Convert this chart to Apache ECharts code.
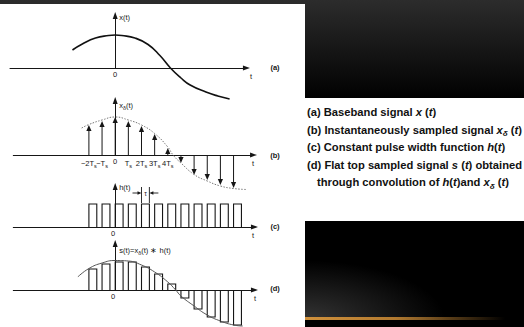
<!DOCTYPE html>
<html><head><meta charset="utf-8">
<script src="https://cdn.jsdelivr.net/npm/echarts@6/dist/echarts.min.js"></script>
<style>
html,body{margin:0;padding:0;background:#000;overflow:hidden}
#wrap{position:relative;width:524px;height:327px;overflow:hidden;background:#000}
.bg{position:absolute}
#chart{position:absolute;left:0;top:0;width:524px;height:327px}
</style></head><body>
<div id="wrap">
<div class="bg" style="left:0;top:0;width:524px;height:100px;background:linear-gradient(#2c2c2c,#000)"></div>
<div class="bg" style="left:0;top:4px;width:305px;height:323px;background:#fff"></div>
<div class="bg" style="left:305px;top:98px;width:219px;height:123px;background:#fff"></div>
<div class="bg" style="left:305px;top:235px;width:200px;height:85px;background:radial-gradient(ellipse 100% 100% at 0% 100%, rgba(95,95,95,0.55), rgba(0,0,0,0) 70%)"></div>
<div class="bg" style="left:305px;top:317px;width:200px;height:3px;background:linear-gradient(to right,#d0913c,#b27a30 45%,rgba(120,80,30,0))"></div>
<div id="chart"></div>
</div>
<script>
// ---- data (times in units of Ts, values in panel pixels above the axis) ----
const sampleTimes      = [-2, -1, 0, 1, 2, 3, 4, 5, 6, 7, 8, 9];
const sampledValuesB   = [30, 34, 38, 34, 29, 21, 7, -8, -20, -25, -30, -33];
const pulseHeightsC    = [23, 23, 23, 23, 23, 23, 23, 23, 23, 23, 23, 23];
const flatTopValuesD   = [21, 26, 28, 28, 23, 16, 6, -8, -19, -27, -32, -35];
const pulseWidth       = 0.6;            // tau, in Ts
const tauMarker        = [2, 34];        // start time, level
const curveTimesA  = [-3.25, -2.5, -1.5, -0.5, 0, 0.5, 1.5, 2.5, 3.4, 4.2, 5.0, 5.7, 6.9, 7.8, 8.7];
const curveValuesA = [18, 24, 30, 32.5, 33, 32.5, 30, 23.5, 12.5, 0, -10, -17, -24, -28, -31];
const curveTimesB  = [-2.55, -2, -1, 0, 1, 2, 3, 4, 4.4, 5, 6, 7, 8, 9, 10];
const curveValuesB = [27, 30.5, 35, 38, 35, 30, 21.5, 8, 0, -8, -19.5, -26, -31, -33.5, -34.5];
const curveTimesD  = [-2.85, -2, -1, 0, 1, 2, 3, 4, 4.6, 5, 6, 7, 8, 9, 9.7];
const curveValuesD = [13, 21.5, 27, 29.5, 29, 25, 18, 8, 0, -6, -16, -25, -31, -35, -36];
const tickValuesB  = [-2, -1, 0, 1, 2, 3, 4];
const tickBaseB    = ['−2T', '−T', '0', 'T', '2T', '3T', '4T'];
const tickSubB     = ['s', 's', '', 's', 's', 's', 's'];
const yNames       = ['x(t)', 'x{sub|δ}(t)', 'h(t)', 's(t)=x{sub|δ}(t) ∗ h(t)'];
const panelTags    = ['(a)', '(b)', '(c)', '(d)'];
const captionLines = [
  '(a) Baseband signal {i|x} ({i|t})',
  '(b) Instantaneously sampled signal {i|x}{sub|δ} ({i|t})',
  '(c) Constant pulse width function {i|h}({i|t})',
  '(d) Flat top sampled signal {i|s} ({i|t}) obtained',
  'through convolution of {i|h}({i|t})and {i|x}{sub|δ} ({i|t})'
];

// ---- layout ----
const kx = 13.15, zeroX = 115.2;
const FONT = 'Liberation Sans, Arial, sans-serif';
const INK = '#161616';
const panels = [
  {axisY: 68,  top: 15.5,  min: -8,    max: 9.98,  tGap: 4.6,  yGap: -1.5, zeroPad: 0, tagY: 67},
  {axisY: 155, top: 100.5, min: -7.75, max: 10.52, tGap: -0.5, yGap: -4.5, zeroPad: 0, tagY: 155},
  {axisY: 227, top: 186.5, min: -7.75, max: 10.59, tGap: -1.5, yGap: -0.5, zeroPad: 4, tagY: 226},
  {axisY: 290, top: 243.5, min: -7.75, max: 10.59, tGap: 0.5,  yGap: -6.5, zeroPad: 4, tagY: 288}
];

const zip = (a, b) => a.map((v, i) => [v, b[i]]);

const grids = [], xAxes = [], yAxes = [];
panels.forEach((p, i) => {
  grids.push({left: zeroX + p.min * kx, width: (p.max - p.min) * kx, top: p.top, height: p.axisY - p.top, containLabel: false});
  xAxes.push({
    gridIndex: i, type: 'value', min: p.min, max: p.max, interval: 0.25,
    axisLine: {onZero: true, symbol: ['none', 'triangle'], symbolSize: [5, 7], lineStyle: {color: INK, width: 1}},
    axisTick: {show: false}, splitLine: {show: false},
    axisLabel: {
      show: true, fontSize: 7.5, fontFamily: FONT, color: INK, margin: 2.5,
      padding: [0, p.zeroPad, 0, 0],
      rich: {s: {fontSize: 5.5, fontFamily: FONT, color: INK, verticalAlign: 'bottom', lineHeight: 11}},
      formatter: function (v) {
        if (i === 1) {
          const k = tickValuesB.indexOf(Math.round(v * 100) / 100);
          if (k < 0) return '';
          return tickSubB[k] ? tickBaseB[k] + '{s|' + tickSubB[k] + '}' : tickBaseB[k];
        }
        return Math.abs(v) < 1e-9 ? '0' : '';
      }
    },
    name: 't', nameLocation: 'end', nameGap: p.tGap,
    nameTextStyle: {fontSize: 7.5, fontFamily: FONT, color: INK, align: 'center', verticalAlign: 'top', lineHeight: 7, padding: [5, 0, 0, 0]}
  });
  yAxes.push({
    gridIndex: i, type: 'value', min: 0, max: p.axisY - p.top,
    axisLine: {onZero: true, symbol: ['none', 'triangle'], symbolSize: [5, 7], lineStyle: {color: INK, width: 1}},
    axisTick: {show: false}, splitLine: {show: false}, axisLabel: {show: false},
    name: yNames[i], nameLocation: 'end', nameGap: p.yGap,
    nameTextStyle: {fontSize: 7.5, fontFamily: FONT, color: INK, align: 'left', verticalAlign: 'middle', padding: [0, 0, 0, 4],
      rich: {sub: {fontSize: 5.5, fontFamily: FONT, color: INK, verticalAlign: 'bottom', lineHeight: 11}}}
  });
});

function stemRender(params, api) {
  const t = api.value(0), v = api.value(1);
  const p0 = api.coord([t, 0]), p1 = api.coord([t, v]);
  const dir = v >= 0 ? 1 : -1, hl = 6, hw = 2.6;
  const base = p1[1] + dir * hl;
  return {type: 'group', children: [
    {type: 'line', shape: {x1: p0[0], y1: p0[1], x2: p1[0], y2: base}, style: {stroke: INK, lineWidth: 1}},
    {type: 'polygon', shape: {points: [[p1[0], p1[1]], [p1[0] - hw, base], [p1[0] + hw, base]]}, style: {fill: INK}}
  ]};
}
function pulseRender(params, api) {
  const t = api.value(0), h = api.value(1);
  return {type: 'polyline', shape: {points: [api.coord([t, 0]), api.coord([t, h]), api.coord([t + pulseWidth, h]), api.coord([t + pulseWidth, 0])]},
    style: {stroke: INK, lineWidth: 1.1, fill: 'none'}};
}
function tauRender(params, api) {
  const t = api.value(0), L = api.value(1);
  const a = api.coord([t, L]), b = api.coord([t + pulseWidth, L]);
  const lo = api.coord([t, L - 10])[1], hi = api.coord([t, L + 6])[1];
  const y = a[1];
  return {type: 'group', children: [
    {type: 'line', shape: {x1: a[0], y1: lo, x2: a[0], y2: hi}, style: {stroke: INK, lineWidth: 0.9}},
    {type: 'line', shape: {x1: b[0], y1: lo, x2: b[0], y2: hi}, style: {stroke: INK, lineWidth: 0.9}},
    {type: 'line', shape: {x1: a[0] - 9, y1: y, x2: a[0] - 3, y2: y}, style: {stroke: INK, lineWidth: 0.9}},
    {type: 'polygon', shape: {points: [[a[0], y], [a[0] - 4, y - 1.8], [a[0] - 4, y + 1.8]]}, style: {fill: INK}},
    {type: 'line', shape: {x1: b[0] + 9, y1: y, x2: b[0] + 3, y2: y}, style: {stroke: INK, lineWidth: 0.9}},
    {type: 'polygon', shape: {points: [[b[0], y], [b[0] + 4, y - 1.8], [b[0] + 4, y + 1.8]]}, style: {fill: INK}},
    {type: 'text', x: (a[0] + b[0]) / 2, y: y + 0.5, style: {text: 'τ', fontSize: 6.5, fontFamily: FONT, fill: INK, align: 'center', verticalAlign: 'middle'}}
  ]};
}

const series = [
  {type: 'line', xAxisIndex: 0, yAxisIndex: 0, data: zip(curveTimesA, curveValuesA), smooth: 0.5, symbol: 'none', clip: false,
    lineStyle: {color: '#111', width: 1.6}},
  {type: 'line', xAxisIndex: 1, yAxisIndex: 1, data: zip(curveTimesB, curveValuesB), smooth: 0.5, symbol: 'none', clip: false,
    lineStyle: {color: '#777', width: 1, type: [1.5, 1.5]}},
  {type: 'custom', xAxisIndex: 1, yAxisIndex: 1, data: zip(sampleTimes, sampledValuesB), renderItem: stemRender, clip: false},
  {type: 'custom', xAxisIndex: 2, yAxisIndex: 2, data: zip(sampleTimes, pulseHeightsC), renderItem: pulseRender, clip: false},
  {type: 'custom', xAxisIndex: 2, yAxisIndex: 2, data: [tauMarker], renderItem: tauRender, clip: false},
  {type: 'line', xAxisIndex: 3, yAxisIndex: 3, data: zip(curveTimesD, curveValuesD), smooth: 0.5, symbol: 'none', clip: false,
    lineStyle: {color: '#555', width: 1}},
  {type: 'custom', xAxisIndex: 3, yAxisIndex: 3, data: zip(sampleTimes, flatTopValuesD), renderItem: pulseRender, clip: false}
];

const graphic = [];
panels.forEach((p, i) => {
  graphic.push({type: 'text', x: 275, y: p.tagY, style: {text: panelTags[i], fontSize: 7.5, fontWeight: 'bold', fontFamily: FONT, fill: INK, align: 'center', verticalAlign: 'middle'}});
});
const capY = [112, 129.5, 147, 164.5, 182];
const capRich = {
  i:   {fontSize: 11.2, fontWeight: 'bold', fontStyle: 'italic', fontFamily: FONT, fill: '#111', lineHeight: 13},
  sub: {fontSize: 8, fontWeight: 'bold', fontStyle: 'italic', fontFamily: FONT, fill: '#111', verticalAlign: 'bottom', lineHeight: 16}
};
captionLines.forEach((line, i) => {
  graphic.push({type: 'text', x: i === 4 ? 317 : 307, y: capY[i],
    style: {text: line, rich: capRich, fontSize: 11.2, fontWeight: 'bold', fontFamily: FONT, fill: '#111', lineHeight: 13, verticalAlign: 'middle', align: 'left'}});
});

const chart = echarts.init(document.getElementById('chart'), null, {renderer: 'svg', width: 524, height: 327});
chart.setOption({
  animation: false,
  backgroundColor: 'transparent',
  grid: grids, xAxis: xAxes, yAxis: yAxes, series: series, graphic: graphic
});
</script>
</body></html>
